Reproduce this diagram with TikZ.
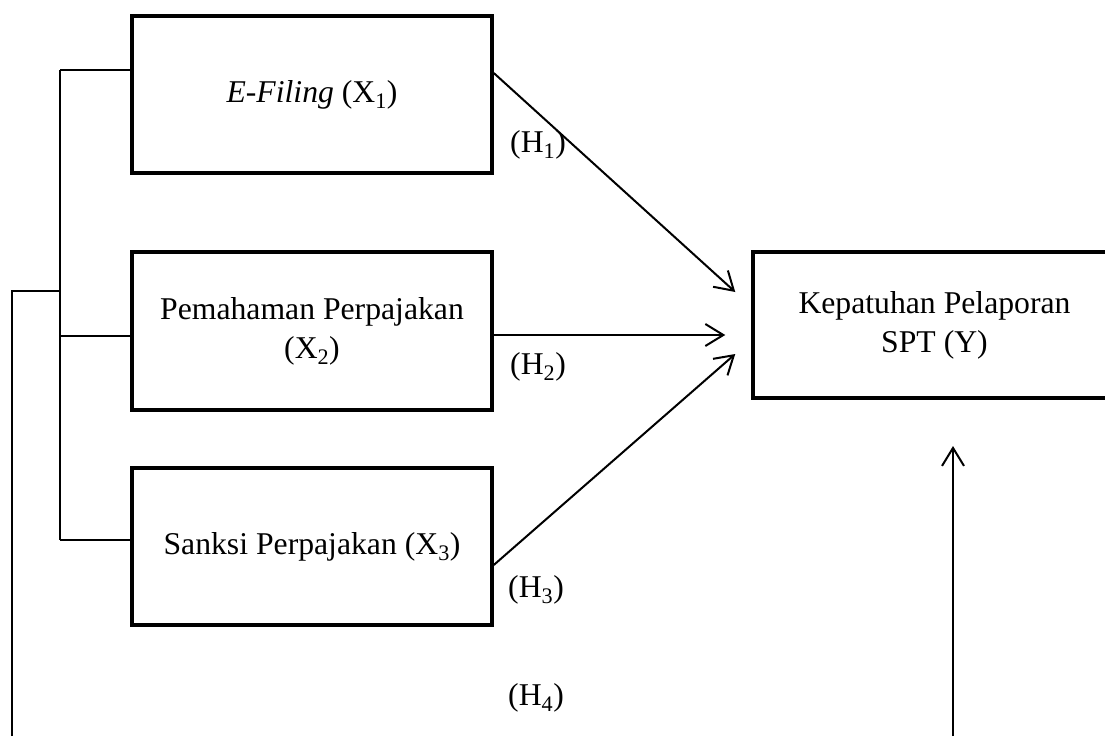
\documentclass[tikz,border=0pt]{standalone}
\usepackage{fontspec}
\setmainfont{Liberation Serif}
\usetikzlibrary{calc,arrows.meta}

\tikzset{
    varbox/.style={draw, line width=3.5pt, minimum width=360pt, align=center,
        font=\fontsize{31.7}{39}\selectfont, inner sep=0pt},
    hyplabel/.style={font=\fontsize{31.7}{39}\selectfont, inner sep=0pt},
    arr/.style={line width=2pt, -{Straight Barb[length=18pt,width=22pt,line width=2pt]}},
    link/.style={line width=1.6pt}
}

\begin{document}
\begin{tikzpicture}[x=1pt, y=-1pt]
    \useasboundingbox (0,0) rectangle (1105,736);
    \clip (0,0) rectangle (1105,736);

    % Define the variable boxes
    \node[varbox, minimum height=157pt] (x1) at (312,94.5) {\textit{E-Filing} (X\textsubscript{1})};
    \node[varbox, minimum height=158pt] (x2) at (312,331) {Pemahaman Perpajakan\\(X\textsubscript{2})};
    \node[varbox, minimum height=157pt] (x3) at (312,546.5) {Sanksi Perpajakan (X\textsubscript{3})};
    \node[varbox, minimum width=363pt, minimum height=146pt] (y) at (934.5,325) {Kepatuhan Pelaporan\\SPT (Y)};

    % Points for the bracket on the left
    \coordinate (bTop) at (60,70);
    \coordinate (bMid) at (60,336);
    \coordinate (bBot) at (60,540);
    \coordinate (bJoin) at (60,291);
    \coordinate (oCorner) at (12,291);
    \coordinate (oFoot) at (12,736);
    \coordinate (vFoot) at (953,736);
    \coordinate (vTip) at (953,446);

    % Draw the bracket joining X1, X2 and X3
    \draw[link] (bTop) -- (bBot);
    \draw[link] (bTop) -- (bTop -| x1.west);
    \draw[link] (bMid) -- (bMid -| x2.west);
    \draw[link] (bBot) -- (bBot -| x3.west);
    \draw[link] (oFoot) -- (oCorner) -- (bJoin);

    % Draw the hypothesis arrows into Y
    \draw[arr] ($(x1.east)+(0,-21.5)$) -- ($(y.west)+(-16,-33)$);
    \draw[arr] ($(x2.east)+(0,4)$) -- ($(y.west)+(-26,10)$);
    \draw[arr] ($(x3.east)+(0,18.5)$) -- ($(y.west)+(-16,29)$);
    \draw[arr] (vFoot) -- (vTip);

    % Label the hypotheses
    \node[hyplabel] (h1) at (538,145) {(H\textsubscript{1})};
    \node[hyplabel] (h2) at (538,367) {(H\textsubscript{2})};
    \node[hyplabel] (h3) at (536,590) {(H\textsubscript{3})};
    \node[hyplabel] (h4) at (536,698) {(H\textsubscript{4})};

\end{tikzpicture}
\end{document}
